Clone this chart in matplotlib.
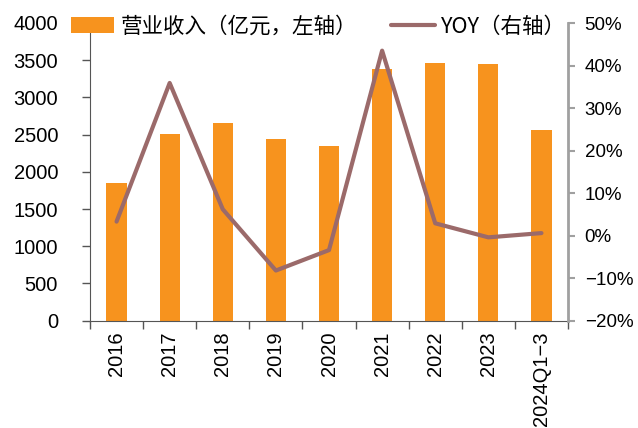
import matplotlib
matplotlib.use("Agg")
import matplotlib.pyplot as plt
from matplotlib.ticker import FuncFormatter, FixedLocator
from matplotlib.legend_handler import HandlerPatch
from matplotlib.patches import Rectangle

plt.rcParams['font.family'] = ['Liberation Sans', 'Noto Sans CJK SC', 'DejaVu Sans']
plt.rcParams['axes.unicode_minus'] = True

categories = ["2016", "2017", "2018", "2019", "2020", "2021", "2022", "2023", "2024Q1\u22123"]
revenue = [1855, 2510, 2660, 2442, 2352, 3379, 3464, 3454, 2563]
yoy = [3.3, 35.9, 6.2, -8.2, -3.4, 43.5, 2.9, -0.4, 0.6]

bar_color = "#F7931E"
line_color = "#9B6A6A"

fig = plt.figure(figsize=(6.38, 4.28), dpi=100)
ax = fig.add_axes([90/638, 1-320.7/428, (568-90)/638, (320.7-23)/428])
x = list(range(len(categories)))
b = ax.bar(x, revenue, width=0.38, color=bar_color, zorder=2)
ax.set_xlim(-0.5, len(categories)-0.5)
ax.set_ylim(0, 4000)
ax.set_yticks(range(0, 4001, 500))
ax.set_xticks(x)
ax.set_xticklabels(categories, rotation=90, fontsize=14.5)
ax.tick_params(axis='x', which='major', length=0, pad=8)
ax.xaxis.set_minor_locator(FixedLocator([i - 0.5 for i in range(len(categories)+1)]))
ax.tick_params(axis='x', which='minor', length=6, width=1, color='#555555', direction='out')
ax.tick_params(axis='y', labelsize=14.5, length=6, width=1, color='#555555', direction='out', pad=17)
for s in ['top', 'right']:
    ax.spines[s].set_visible(False)
ax.spines['left'].set_color('#555555')
ax.spines['bottom'].set_color('#555555')

ax2 = ax.twinx()
ln, = ax2.plot(x, yoy, color=line_color, linewidth=3.0, zorder=3, solid_capstyle='round')
ax2.set_ylim(-20, 50)
ax2.set_yticks(range(-20, 51, 10))
ax2.yaxis.set_major_formatter(FuncFormatter(lambda v, p: f"{int(v)}%".replace('-', '\u2212')))
ax2.tick_params(axis='y', labelsize=13.5, length=5, width=1.5, color='#A0A0A0', direction='out', pad=7)
for s in ['top', 'left', 'bottom']:
    ax2.spines[s].set_visible(False)
ax2.spines['right'].set_color('#A0A0A0')
ax2.spines['right'].set_linewidth(2)


def wide_patch(legend, orig_handle, xdescent, ydescent, width, height, fontsize):
    extra = 11
    return Rectangle((-xdescent - extra, -ydescent), width + extra, height)


leg = fig.legend(handles=[b, ln], labels=["营业收入（亿元，左轴）", "YOY（右轴）"],
                 loc='center left', bbox_to_anchor=(71/638, 1-26.5/428), ncol=2,
                 frameon=False, borderaxespad=0, borderpad=0, handlelength=2.0,
                 handleheight=0.7, handletextpad=0.3, columnspacing=1.6,
                 handler_map={type(b.patches[0]): HandlerPatch(patch_func=wide_patch)},
                 prop={'family': ['Noto Sans CJK SC', 'DejaVu Sans'], 'size': 15.5})

fig.savefig("out.png", dpi=100)
